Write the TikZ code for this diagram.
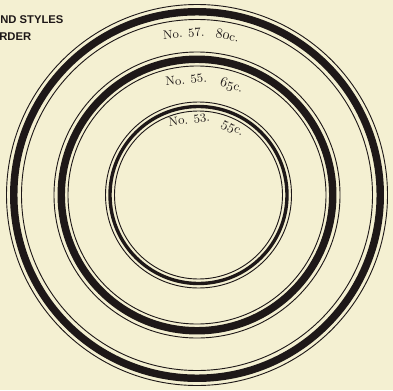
\documentclass[tikz,border=0pt]{standalone}
\usepackage{fontspec}
\newfontfamily\headfont{Liberation Sans}
\usepackage{xcolor}
\usepackage{tikz}
\definecolor{paper}{RGB}{244, 240, 210}
\definecolor{ink}{RGB}{30, 24, 24}
\newcommand{\osnum}[1]{{\usefont{OML}{cmm}{m}{it}\fontsize{10}{11}\selectfont#1}}

\begin{document}
\begin{tikzpicture}[x=0.025cm, y=0.025cm,
    thinring/.style={draw=ink, line width=0.65pt},
    band/.style={draw=ink, line width=5.3pt},
    sizelabel/.style={anchor=base, inner sep=0pt, text=ink, font=\fontsize{8.8}{10}\selectfont},
    headline/.style={anchor=base west, inner sep=0pt, text=ink, font=\headfont\bfseries\fontsize{8}{9}\selectfont}]

    \useasboundingbox[fill=paper] (0,0) rectangle (393,390);
    \coordinate (c) at (197,195);
    \coordinate (c53) at (198.5,195);

    % No. 57
    \draw[thinring] (c) circle[radius=190.5];
    \draw[band] (c) circle[radius=183.25];
    \draw[thinring] (c) circle[radius=175.5];
    % No. 55
    \draw[thinring] (c) circle[radius=143];
    \draw[band] (c) circle[radius=135.75];
    \draw[thinring] (c) circle[radius=129];
    % No. 53
    \draw[thinring] (c53) circle[radius=93];
    \draw[band, line width=2.4pt] (c53) circle[radius=88.5];
    \draw[thinring] (c53) circle[radius=84];

    \node[sizelabel, rotate=4.7] (no57) at ([shift={(94.7:158)}]c) {No. 57.};
    \node[sizelabel, rotate=-10.8] (pr57) at ([shift={(79.2:158)}]c) {\osnum{80}c.};
    \node[sizelabel, rotate=5.4] (no55) at ([shift={(95.4:111.5)}]c) {No. 55.};
    \node[sizelabel, rotate=-17.5] (pr55) at ([shift={(72.5:111.5)}]c) {\osnum{65}c.};
    \node[sizelabel, rotate=7] (no53) at ([shift={(97:72)}]c53) {No. 53.};
    \node[sizelabel, rotate=-27] (pr53) at ([shift={(63:72)}]c53) {\osnum{55}c.};

    \node[headline] (hd1) at (0,367) {ND STYLES};
    \node[headline] (hd2) at (-1,350) {RDER};

\end{tikzpicture}
\end{document}
